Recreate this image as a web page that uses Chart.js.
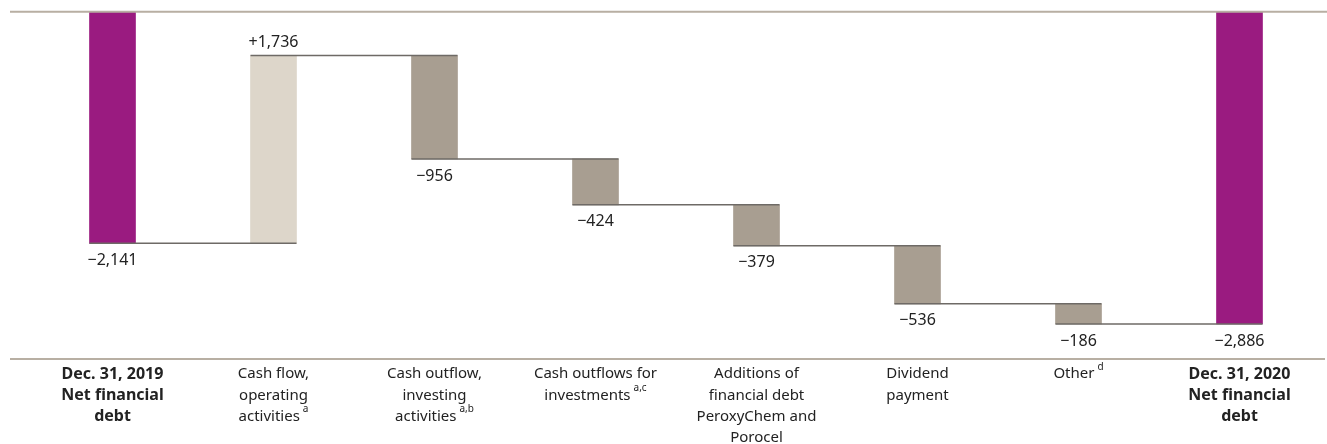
<!DOCTYPE html>
<html>
<head>
<meta charset="utf-8">
<script src="https://cdn.jsdelivr.net/npm/chart.js@4"></script>
<style>
  html, body { margin: 0; padding: 0; background: #fff; }
  #wrap { width: 1327px; height: 444px; }
</style>
</head>
<body>
<div id="wrap"><canvas id="waterfall"></canvas></div>
<script>
// values in EUR million
const categories = [
  ["Dec. 31, 2019", "Net financial", "debt"],
  ["Cash flow,", "operating", "activities"],
  ["Cash outflow,", "investing", "activities"],
  ["Cash outflows for", "investments"],
  ["Additions of", "financial debt", "PeroxyChem and", "Porocel"],
  ["Dividend", "payment"],
  ["Other"],
  ["Dec. 31, 2020", "Net financial", "debt"]
]
const footnotes = ["", "a", "a,b", "a,c", "", "", "d", ""]
const changes = [-2141, 1736, -956, -424, -379, -536, -186, -2886]
const valueLabels = ["\u22122,141", "+1,736", "\u2212956", "\u2212424", "\u2212379", "\u2212536", "\u2212186", "\u22122,886"]
const isTotal = [true, false, false, false, false, false, false, true]

const colTotal = '#9a1b80'
const colUp = '#ddd6ca'
const colDown = '#a89e91'

// build floating bars
let running = 0
const ranges = changes.map((v, i) => {
  if (isTotal[i]) { running = v; return [0, v] }
  const start = running
  running = running + v
  return [start, running]
})
const colors = changes.map((v, i) => isTotal[i] ? colTotal : (v > 0 ? colUp : colDown))

const FONT = '"Noto Sans", "Open Sans", sans-serif'

const extras = {
  id: 'extras',
  afterDatasetsDraw(chart) {
    const { ctx, chartArea, scales } = chart
    const x = scales.x, y = scales.y
    const meta = chart.getDatasetMeta(0)
    ctx.save()

    // top and bottom rules
    ctx.strokeStyle = '#b8afa3'
    ctx.lineWidth = 2
    ctx.beginPath()
    ctx.moveTo(10, y.getPixelForValue(0)); ctx.lineTo(1327, y.getPixelForValue(0))
    ctx.moveTo(10, chartArea.bottom); ctx.lineTo(1325, chartArea.bottom)
    ctx.stroke()

    // connectors
    ctx.strokeStyle = '#6e6a66'
    ctx.lineWidth = 1.5
    for (let i = 0; i < ranges.length - 1; i++) {
      const a = meta.data[i], b = meta.data[i + 1]
      const yy = y.getPixelForValue(ranges[i][1])
      ctx.beginPath()
      ctx.moveTo(a.x - a.width / 2, yy)
      ctx.lineTo(b.x + b.width / 2, yy)
      ctx.stroke()
    }

    // value labels
    ctx.fillStyle = '#222'
    ctx.font = '16px ' + FONT
    ctx.textAlign = 'center'
    ctx.textBaseline = 'middle'
    ranges.forEach((r, i) => {
      const el = meta.data[i]
      if (changes[i] > 0) {
        ctx.fillText(valueLabels[i], el.x, y.getPixelForValue(r[1]) - 13)
      } else {
        ctx.fillText(valueLabels[i], el.x, y.getPixelForValue(r[1]) + 17)
      }
    })

    // category labels
    categories.forEach((lines, i) => {
      const cx = x.getPixelForValue(i)
      const font = isTotal[i] ? 'bold 16px ' + FONT : '15px ' + FONT
      lines.forEach((ln, j) => {
        const ly = chartArea.bottom + 15 + j * 21.3
        const sup = (j === lines.length - 1) ? footnotes[i] : ''
        ctx.font = font
        const w = ctx.measureText(ln).width
        ctx.font = '10px ' + FONT
        const sw = sup ? ctx.measureText(sup).width + 3 : 0
        const left = cx - (w + sw) / 2
        ctx.font = font
        ctx.textAlign = 'left'
        ctx.fillText(ln, left, ly)
        if (sup) {
          ctx.font = '10px ' + FONT
          ctx.fillText(sup, left + w + 3, ly - 7)
        }
      })
    })
    ctx.restore()
  }
}

new Chart('waterfall', {
  type: 'bar',
  data: {
    labels: categories.map(c => c.join(' ')),
    datasets: [{
      data: ranges,
      backgroundColor: colors,
      borderWidth: 0,
      barThickness: 46
    }]
  },
  options: {
    responsive: true,
    maintainAspectRatio: false,
    animation: false,
    layout: { padding: { left: 32, right: 7, top: 11.7, bottom: 85 } },
    plugins: { legend: { display: false }, tooltip: { enabled: false } },
    scales: {
      x: { display: false },
      y: { display: false, min: -3210, max: 0 }
    }
  },
  plugins: [extras]
})
</script>
</body>
</html>
